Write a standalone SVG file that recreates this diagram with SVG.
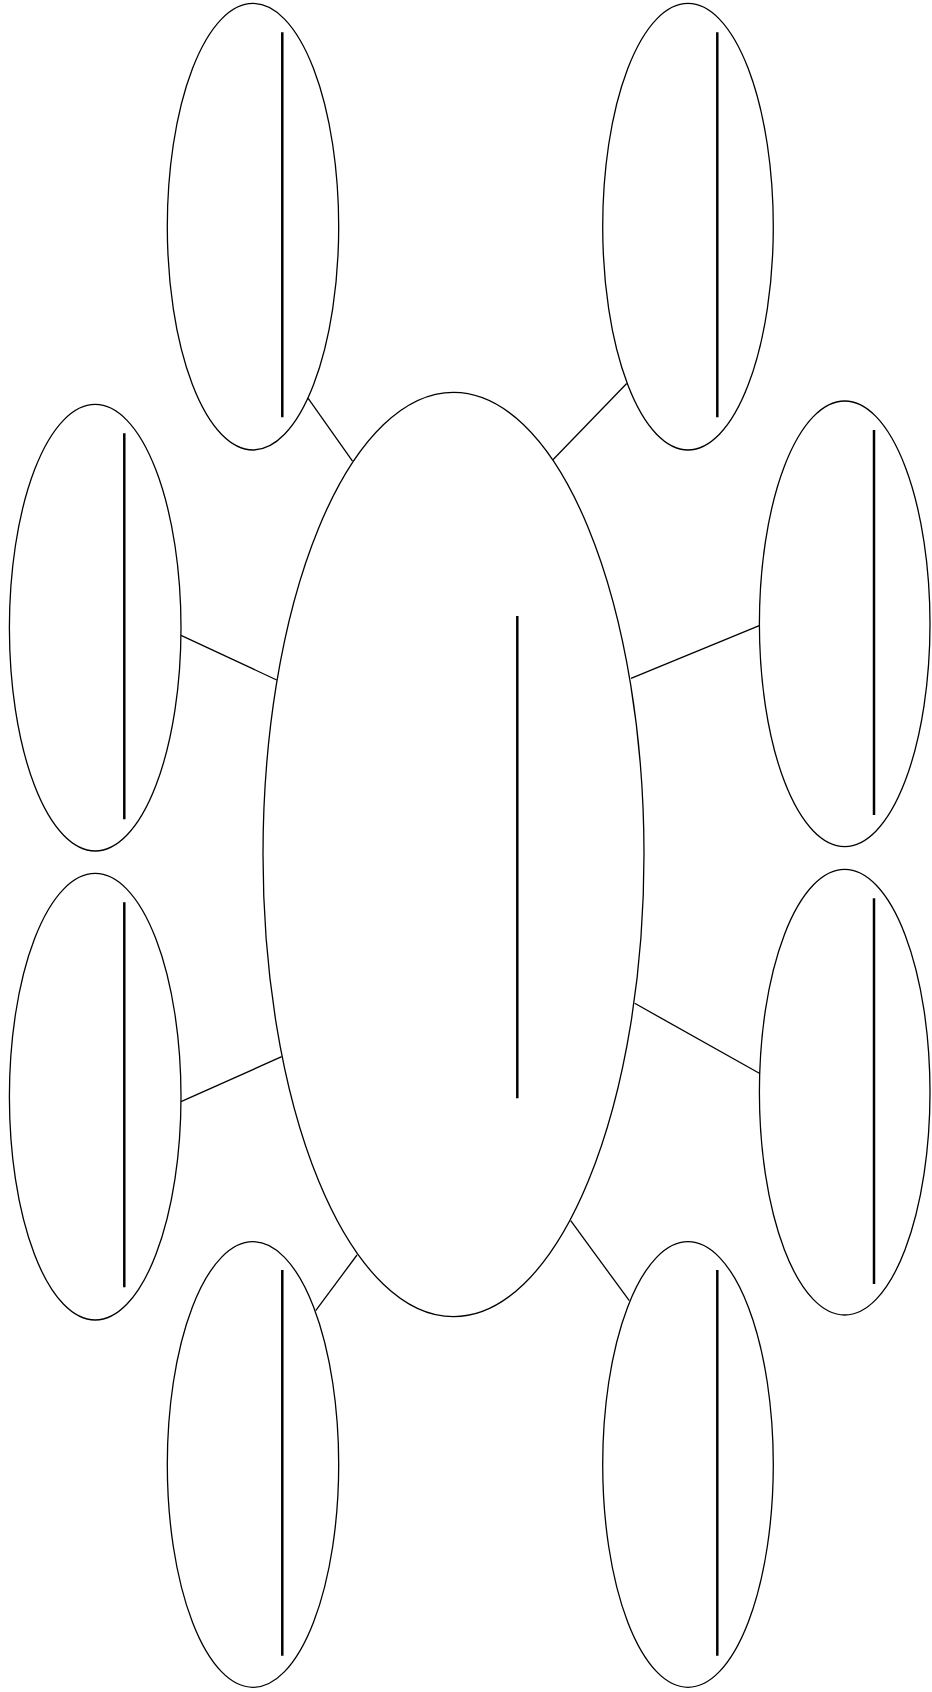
<svg xmlns="http://www.w3.org/2000/svg" width="932" height="1692" viewBox="0 0 932 1692">
<style>
.node{fill:#fff;stroke:#000;stroke-width:1.3}
.blank{stroke:#000;stroke-width:2.5;fill:none}
.conn{stroke:#000;stroke-width:1.3;fill:none}
</style>
<rect width="932" height="1692" fill="#fff"/>
<g id="connectors">
<line class="conn" x1="308" y1="398" x2="352.5" y2="461"/>
<line class="conn" x1="626.7" y1="383.5" x2="552.7" y2="460"/>
<line class="conn" x1="181" y1="635.3" x2="276.7" y2="680"/>
<line class="conn" x1="759.3" y1="625.7" x2="631" y2="678.3"/>
<line class="conn" x1="181" y1="1101.7" x2="281.7" y2="1056.7"/>
<line class="conn" x1="759.3" y1="1073.3" x2="634.7" y2="1003.3"/>
<line class="conn" x1="315.7" y1="1310.7" x2="357" y2="1255"/>
<line class="conn" x1="629.3" y1="1300.7" x2="570.7" y2="1220.7"/>
</g>
<g id="center">
<ellipse class="node" cx="453.5" cy="854.5" rx="190.5" ry="462.2"/>
<line class="blank" x1="517.3" y1="616" x2="517.3" y2="1098.3"/>
</g>
<g id="top-left">
<ellipse class="node" cx="253" cy="226.7" rx="85.7" ry="223.3"/>
<line class="blank" x1="282.3" y1="32.3" x2="282.3" y2="417.3"/>
</g>
<g id="top-right">
<ellipse class="node" cx="688" cy="226.7" rx="85.3" ry="223.3"/>
<line class="blank" x1="717.3" y1="32.3" x2="717.3" y2="417.3"/>
</g>
<g id="left-upper">
<ellipse class="node" cx="95.2" cy="627.7" rx="85.8" ry="223.3"/>
<line class="blank" x1="124.3" y1="433.3" x2="124.3" y2="819.3"/>
</g>
<g id="right-upper">
<ellipse class="node" cx="844.7" cy="623.8" rx="85.3" ry="222.8"/>
<line class="blank" x1="874" y1="430" x2="874" y2="815"/>
</g>
<g id="left-lower">
<ellipse class="node" cx="95.2" cy="1096.7" rx="85.8" ry="223.3"/>
<line class="blank" x1="124.3" y1="902.3" x2="124.3" y2="1287.3"/>
</g>
<g id="right-lower">
<ellipse class="node" cx="844.7" cy="1092.2" rx="85.3" ry="222.8"/>
<line class="blank" x1="874" y1="898.3" x2="874" y2="1284"/>
</g>
<g id="bottom-left">
<ellipse class="node" cx="253" cy="1464.5" rx="85.7" ry="222.8"/>
<line class="blank" x1="282.3" y1="1270" x2="282.3" y2="1655.7"/>
</g>
<g id="bottom-right">
<ellipse class="node" cx="688" cy="1464.5" rx="85.3" ry="222.8"/>
<line class="blank" x1="717.3" y1="1270" x2="717.3" y2="1655.7"/>
</g>
</svg>
